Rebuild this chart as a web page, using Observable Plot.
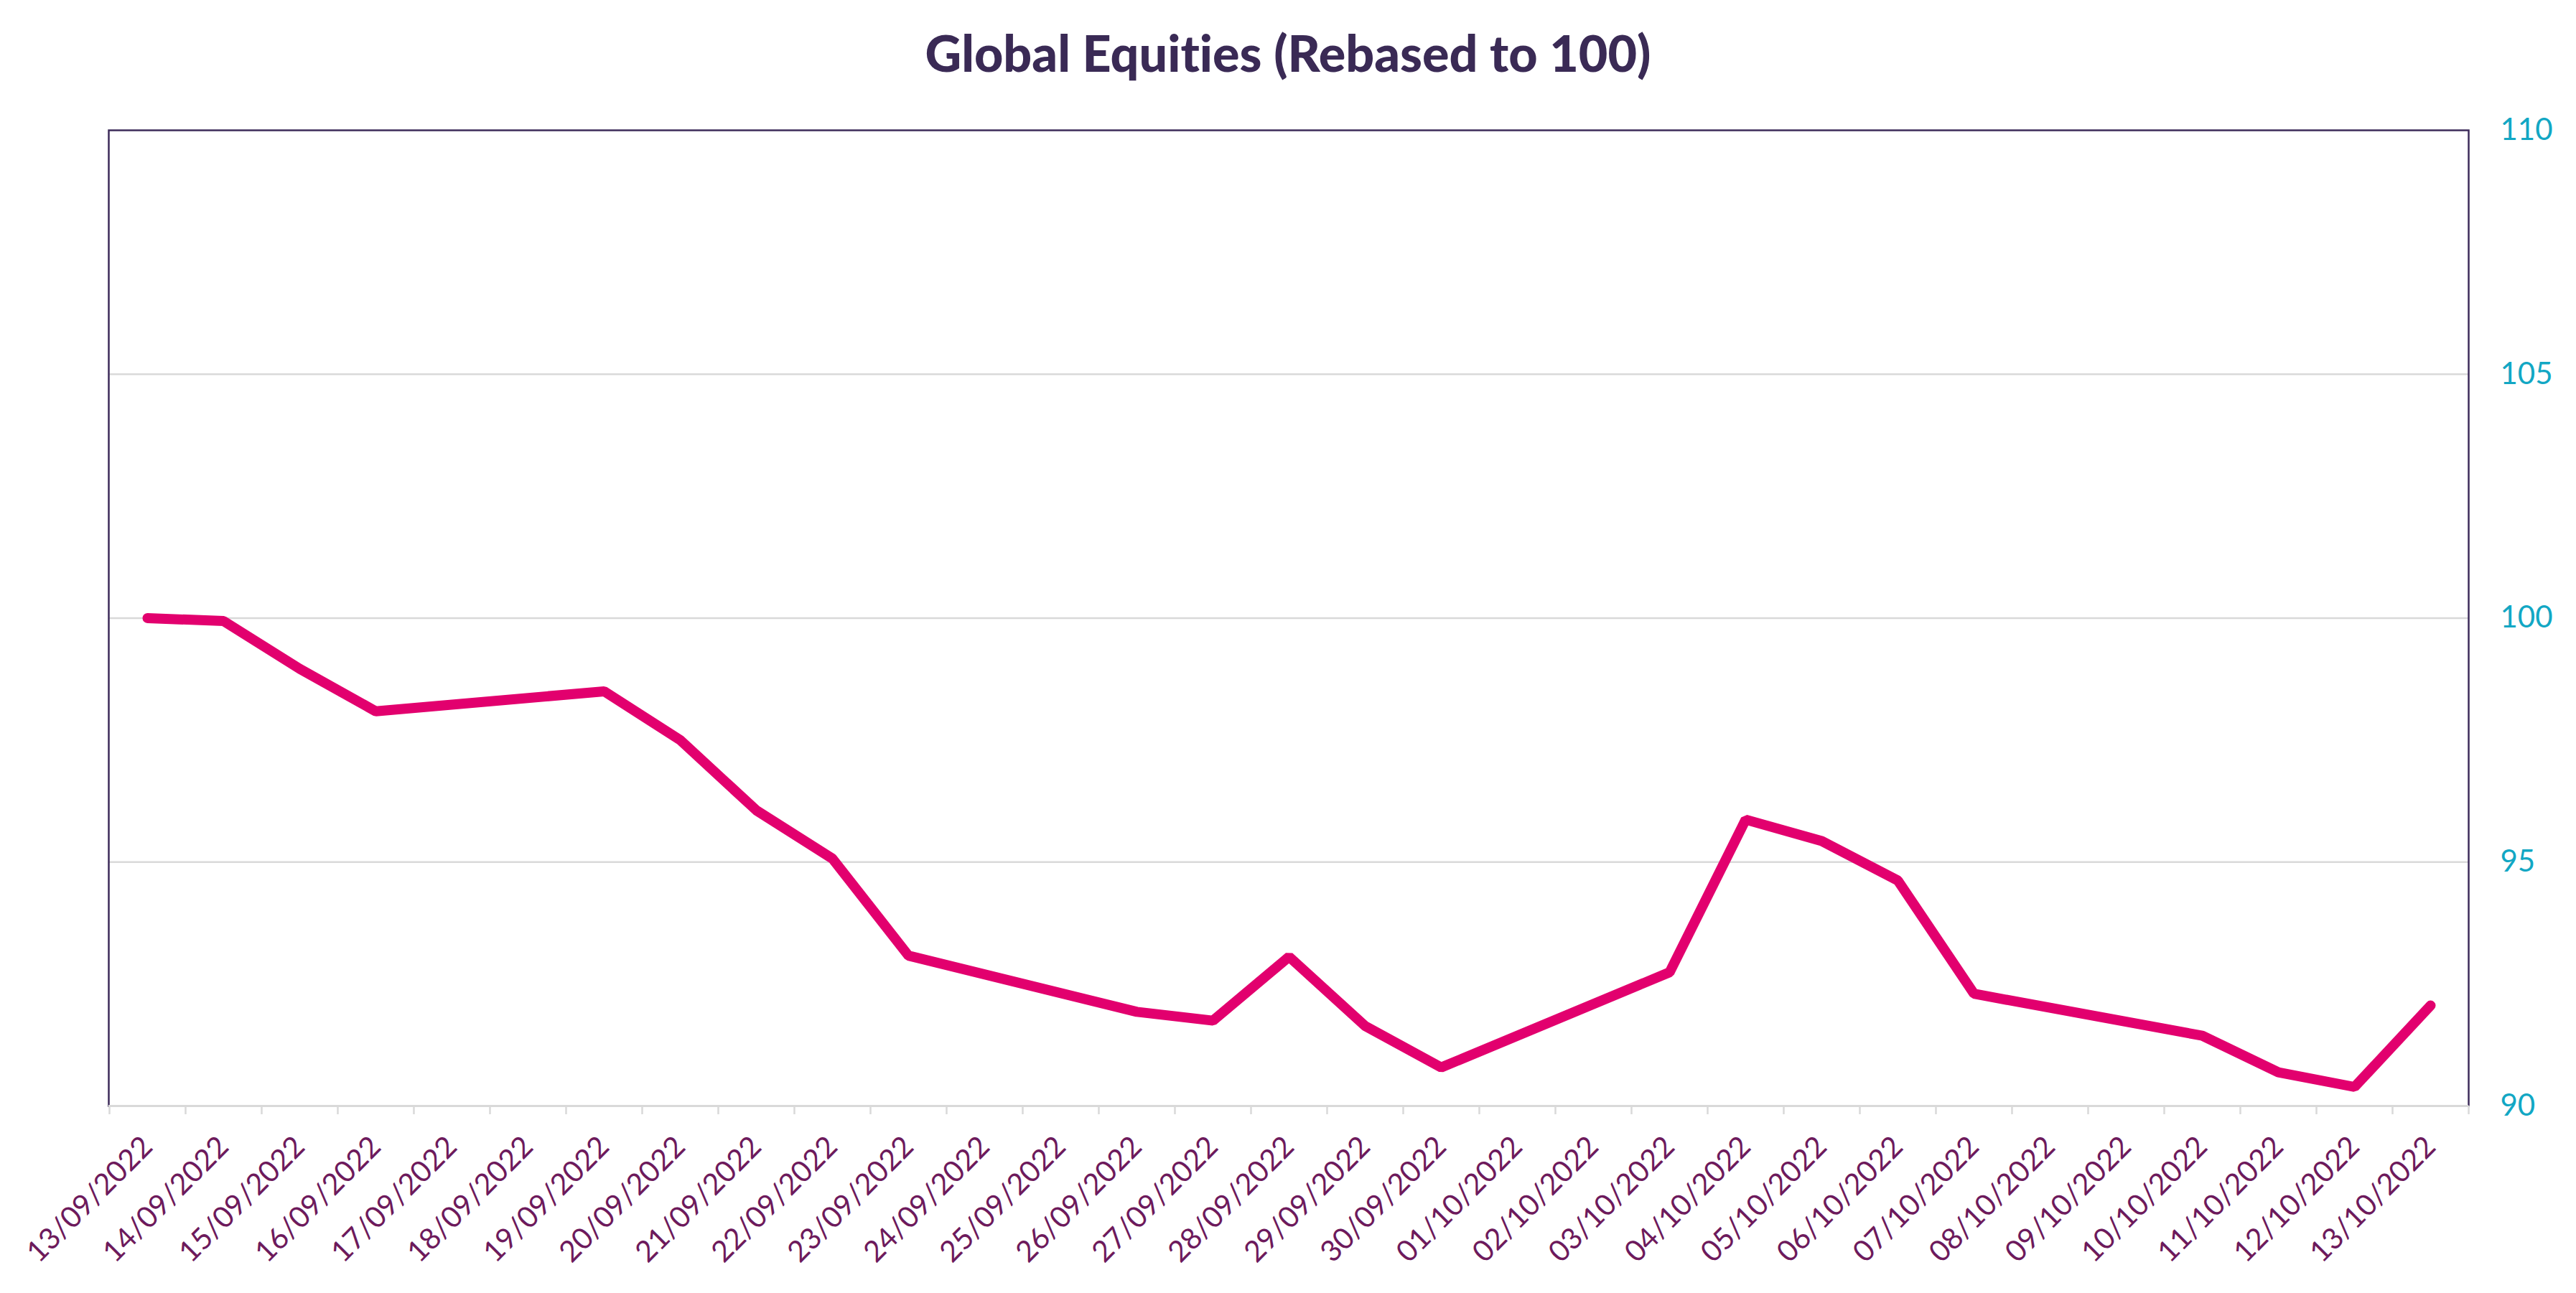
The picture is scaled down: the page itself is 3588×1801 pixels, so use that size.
<!DOCTYPE html>
<html>
<head>
<meta charset="utf-8">
<script src="https://cdn.jsdelivr.net/npm/d3@7"></script>
<script src="https://cdn.jsdelivr.net/npm/@observablehq/plot@0.6"></script>
<style>
  html, body { margin: 0; padding: 0; background: #ffffff; }
  #title {
    width: 3588px;
    padding-top: 40px;
    height: 67px;
    line-height: 67px;
    font-family: Lato, "Open Sans", sans-serif;
    font-weight: 900;
    font-size: 70px;
    font-variant-ligatures: none;
    font-feature-settings: "liga" 0, "clig" 0;
    color: #3a2a55;
    text-align: center;
  }
  #chart svg { display: block; }
</style>
</head>
<body>
<div id="title">Global Equities (Rebased to 100)</div>
<div id="chart"></div>
<script>
// All calendar dates on the category axis
const dates = [
  "13/09/2022","14/09/2022","15/09/2022","16/09/2022","17/09/2022","18/09/2022","19/09/2022",
  "20/09/2022","21/09/2022","22/09/2022","23/09/2022","24/09/2022","25/09/2022","26/09/2022",
  "27/09/2022","28/09/2022","29/09/2022","30/09/2022","01/10/2022","02/10/2022","03/10/2022",
  "04/10/2022","05/10/2022","06/10/2022","07/10/2022","08/10/2022","09/10/2022","10/10/2022",
  "11/10/2022","12/10/2022","13/10/2022"
];
// Trading days that carry a value (weekends are blank and the line connects across them)
const tradeDates = [
  "13/09/2022","14/09/2022","15/09/2022","16/09/2022","19/09/2022","20/09/2022","21/09/2022",
  "22/09/2022","23/09/2022","26/09/2022","27/09/2022","28/09/2022","29/09/2022","30/09/2022",
  "03/10/2022","04/10/2022","05/10/2022","06/10/2022","07/10/2022","10/10/2022","11/10/2022",
  "12/10/2022","13/10/2022"
];
const values = [
  100.00, 99.94, 98.96, 98.09, 98.50, 97.50, 96.06,
  95.07, 93.08, 91.93, 91.75, 93.06, 91.64, 90.79,
  92.74, 95.87, 95.43, 94.62, 92.30, 91.44, 90.69,
  90.39, 92.06
];
const yTicks = [90, 95, 100, 105, 110];
const gridTicks = [95, 100, 105];

const data = tradeDates.map((d, i) => ({date: d, value: values[i]}));

const W = 3588, H = 1801 - 107;
const mL = 151, mR = 150, mT = 74, mB = 261;
const step = (W - mL - mR) / dates.length;

const chart = Plot.plot({
  width: W,
  height: H,
  marginLeft: mL,
  marginRight: mR,
  marginTop: mT,
  marginBottom: mB,
  style: {fontFamily: "Lato, 'Open Sans', sans-serif", background: "#ffffff"},
  x: {type: "point", domain: dates, padding: 0.5, label: null},
  y: {domain: [90, 110], label: null},
  marks: [
    Plot.ruleY(gridTicks, {stroke: "#d9d9d9", strokeWidth: 2.5}),
    Plot.frame({stroke: "#3d2b5a", strokeWidth: 2.5}),
    Plot.ruleY([90], {stroke: "#d9d9d9", strokeWidth: 3}),
    Plot.axisX({ticks: dates, tickSize: 12, tickFormat: () => "", dx: -step / 2, color: "#d9d9d9", strokeWidth: 2.5, label: null}),
    Plot.axisX({ticks: [dates[dates.length - 1]], tickSize: 12, tickFormat: () => "", dx: step / 2, color: "#d9d9d9", strokeWidth: 2.5, label: null}),
    Plot.axisX({ticks: dates, tickSize: 0, tickPadding: 50, tickRotate: -45, color: "#6d1a5c", fontSize: 41, label: null}),
    Plot.axisY({anchor: "right", ticks: yTicks, tickSize: 0, tickPadding: 44, color: "#12a7c4", fontSize: 42, label: null}),
    Plot.line(data, {x: "date", y: "value", stroke: "#e2006e", strokeWidth: 14, strokeLinecap: "round", strokeLinejoin: "miter"})
  ]
});
document.getElementById("chart").appendChild(chart);
</script>
</body>
</html>
